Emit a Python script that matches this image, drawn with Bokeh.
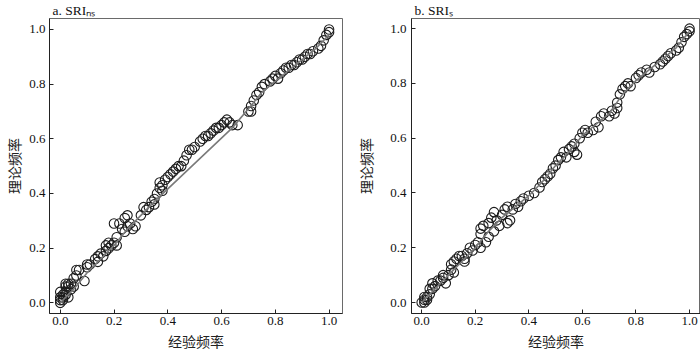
from bokeh.plotting import figure
from bokeh.layouts import row
from bokeh.models import Range1d, FixedTicker, NumeralTickFormatter
from bokeh.embed import file_html
from bokeh.resources import INLINE

# ---------------- data ----------------
a_x = [0.00,0.00,0.00,0.01,0.01,0.01,0.02,0.00,0.02,0.02,0.03,0.03,0.02,0.03,0.04,0.04,0.05,
       0.05,0.06,0.07,0.06,0.09,0.10,0.10,0.11,
       0.13,0.14,0.14,0.15,0.16,0.17,0.17,0.18,0.18,0.19,0.20,0.21,0.21,
       0.20,0.22,0.23,0.24,0.25,0.24,0.25,0.26,0.27,0.28,
       0.30,0.31,0.32,0.33,0.34,0.35,0.35,0.36,0.37,0.37,0.38,0.38,0.39,0.40,
       0.41,0.42,0.43,0.44,0.45,0.46,0.47,0.48,0.49,0.50,0.52,0.53,0.54,0.55,0.56,0.57,0.58,0.59,0.60,0.61,0.62,0.63,0.64,0.66,
       0.70,0.71,0.71,0.72,0.73,0.74,0.75,0.76,
       0.78,0.79,0.80,0.81,0.82,0.83,0.84,0.85,0.86,0.87,0.88,0.89,0.90,0.91,0.92,0.93,0.94,0.96,0.97,0.98,0.99,1.00,1.00]
a_y = [0.00,0.01,0.02,0.01,0.03,0.02,0.04,0.04,0.06,0.07,0.06,0.07,0.03,0.02,0.05,0.07,0.06,
       0.09,0.12,0.12,0.10,0.08,0.14,0.13,0.14,
       0.16,0.17,0.15,0.18,0.17,0.19,0.21,0.22,0.20,0.21,0.22,0.21,0.24,
       0.29,0.29,0.27,0.31,0.32,0.26,0.28,0.29,0.27,0.28,
       0.32,0.35,0.34,0.35,0.37,0.38,0.36,0.40,0.42,0.44,0.43,0.41,0.45,0.46,
       0.47,0.48,0.49,0.50,0.50,0.52,0.54,0.56,0.56,0.57,0.59,0.60,0.61,0.61,0.62,0.63,0.64,0.64,0.65,0.66,0.67,0.66,0.65,0.65,
       0.70,0.72,0.70,0.74,0.76,0.77,0.79,0.80,
       0.81,0.82,0.83,0.82,0.84,0.85,0.86,0.86,0.87,0.87,0.88,0.89,0.89,0.90,0.91,0.91,0.92,0.93,0.94,0.96,0.98,0.99,1.00]
a_line_x = [0.00,0.05,0.10,0.15,0.20,0.25,0.30,0.35,0.64,0.70,0.75,0.80,0.85,0.90,0.95,1.00]
a_line_y = [0.00,0.05,0.11,0.16,0.21,0.27,0.32,0.37,0.64,0.71,0.77,0.81,0.85,0.89,0.93,0.98]

b_x = [0.00,0.01,0.01,0.01,0.02,0.02,0.03,0.03,0.04,0.04,0.05,0.06,0.07,0.08,0.08,0.09,0.10,0.11,0.11,0.12,0.12,
       0.13,0.14,0.15,0.16,0.16,0.17,0.18,0.19,0.20,0.21,0.22,0.22,0.22,0.23,0.24,0.25,0.25,0.26,0.27,0.27,
       0.28,0.29,0.30,0.31,0.32,0.32,0.33,0.34,0.35,0.36,0.37,0.38,0.40,0.42,0.44,0.45,0.46,0.47,0.48,0.49,
       0.50,0.51,0.52,0.53,0.54,0.55,0.56,0.57,0.57,0.58,0.59,0.60,0.61,0.62,0.64,0.65,0.66,0.67,0.68,0.70,
       0.71,0.72,0.73,0.73,0.74,0.75,0.76,0.77,0.78,0.80,0.81,0.82,0.84,0.85,0.87,0.89,0.90,0.91,0.92,0.93,
       0.95,0.96,0.97,0.98,0.99,1.00,1.00]
b_y = [0.00,0.01,0.00,0.02,0.01,0.02,0.03,0.05,0.05,0.07,0.06,0.08,0.08,0.09,0.10,0.07,0.10,0.12,0.14,0.15,0.11,
       0.16,0.17,0.17,0.16,0.15,0.18,0.20,0.19,0.21,0.22,0.20,0.25,0.27,0.28,0.22,0.24,0.29,0.31,0.33,0.26,
       0.30,0.28,0.32,0.34,0.29,0.35,0.30,0.34,0.36,0.35,0.37,0.38,0.39,0.40,0.42,0.44,0.45,0.46,0.47,0.49,
       0.50,0.52,0.53,0.55,0.53,0.56,0.57,0.58,0.55,0.54,0.60,0.62,0.63,0.62,0.63,0.66,0.64,0.68,0.69,0.68,
       0.70,0.69,0.71,0.73,0.76,0.78,0.79,0.80,0.79,0.82,0.83,0.84,0.85,0.84,0.86,0.87,0.88,0.89,0.90,0.91,
       0.92,0.93,0.95,0.97,0.98,0.99,1.00]
b_line_x = [0.00,0.05,0.10,0.15,0.20,0.25,0.30,0.35,0.40,0.45,0.50,0.55,0.60,0.65,0.70,0.75,0.80,0.85,0.90,0.95,1.00]
b_line_y = [0.00,0.05,0.10,0.15,0.20,0.26,0.31,0.35,0.39,0.44,0.50,0.55,0.61,0.65,0.69,0.76,0.81,0.85,0.89,0.93,0.99]

ticks = [0.0, 0.2, 0.4, 0.6, 0.8, 1.0]
x_title = "经验频率"
y_title = "理论频率"
title_a = "a. SRIₙₛ"
title_b = "b. SRIₛ"

SERIF = "Liberation Serif"
CJK = "Noto Sans CJK SC"


def make_panel(xs, ys, lx, ly, xr, yr, left, right, bottom, title, ylab_standoff, tick_standoff):
    p = figure(width=350, height=353, output_backend="svg", toolbar_location=None,
               x_range=Range1d(*xr), y_range=Range1d(*yr),
               min_border_left=left, min_border_right=right,
               min_border_top=17, min_border_bottom=bottom,
               title=title)
    p.title.text_font = SERIF
    p.title.text_font_size = "13.5px"
    p.title.text_font_style = "normal"
    p.title.text_color = "#111111"
    p.title.align = "left"
    p.title.offset = 3
    p.title.standoff = 1
    p.grid.visible = False
    p.outline_line_color = "#6a6a6a"
    p.outline_line_width = 1
    for ax in (p.xaxis[0], p.yaxis[0]):
        ax.ticker = FixedTicker(ticks=ticks)
        ax.formatter = NumeralTickFormatter(format="0.0")
        ax.major_tick_in = 4
        ax.major_tick_out = 0
        ax.minor_tick_line_color = None
        ax.axis_line_color = "#222222"
        ax.major_tick_line_color = "#222222"
        ax.major_label_text_font = SERIF
        ax.major_label_text_font_size = "13px"
        ax.major_label_text_color = "#111111"
        ax.axis_label_text_font = CJK
        ax.axis_label_text_font_size = "14px"
        ax.axis_label_text_font_style = "normal"
        ax.axis_label_text_color = "#222222"
    p.xaxis[0].axis_label = x_title
    p.xaxis[0].major_label_standoff = 3
    p.xaxis[0].axis_label_standoff = 3
    p.yaxis[0].axis_label = y_title
    p.yaxis[0].major_label_standoff = tick_standoff
    p.yaxis[0].axis_label_standoff = ylab_standoff

    p.scatter(xs, ys, size=9.5, marker="circle", fill_color=None,
              line_color="#1c1c1c", line_width=1.1)
    p.line(lx, ly, line_color="#7a7a7a", line_width=1.6)
    return p


pa = make_panel(a_x, a_y, a_line_x, a_line_y, (-0.04, 1.05), (-0.039, 1.04),
                49, 8, 39, title_a, 2, 4)
pb = make_panel(b_x, b_y, b_line_x, b_line_y, (-0.038, 1.041), (-0.04, 1.037),
                61, 0, 38, title_b, 11, 5)

layout = row(pa, pb, spacing=0)
open("out.html", "w").write(file_html(layout, INLINE))
